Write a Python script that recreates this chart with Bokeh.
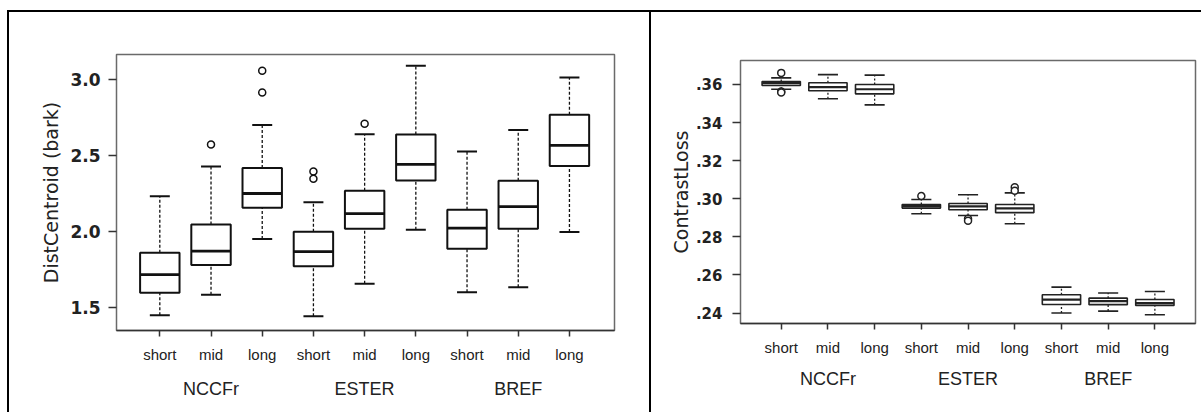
from bokeh.plotting import figure
from bokeh.layouts import row
from bokeh.models import ColumnDataSource, FixedTicker, LinearAxis, CustomJSTickFormatter, Range1d
from bokeh.embed import file_html
from bokeh.resources import INLINE

# ---- data ----
groups = ["NCCFr", "ESTER", "BREF"]
lengths = ["short", "mid", "long"]

# Left panel: DistCentroid (bark)
dc_low = [1.450, 1.584, 1.950, 1.443, 1.656, 2.011, 1.601, 1.634, 1.996]
dc_q1 = [1.597, 1.780, 2.156, 1.772, 2.018, 2.336, 1.886, 2.018, 2.430]
dc_med = [1.717, 1.871, 2.250, 1.868, 2.118, 2.441, 2.022, 2.163, 2.566]
dc_q3 = [1.860, 2.046, 2.417, 1.998, 2.268, 2.638, 2.143, 2.334, 2.768]
dc_high = [2.232, 2.428, 2.700, 2.193, 2.640, 3.090, 2.526, 2.667, 3.013]
dc_out_cat = [2, 3, 3, 4, 4, 5]
dc_out_val = [2.572, 3.057, 2.914, 2.395, 2.347, 2.708]

# Right panel: ContrastLoss
cl_low = [0.3575, 0.3525, 0.3493, 0.2921, 0.2912, 0.2869, 0.2400, 0.2410, 0.2391]
cl_q1 = [0.3595, 0.3567, 0.3551, 0.2951, 0.2942, 0.2927, 0.2445, 0.2444, 0.2440]
cl_med = [0.3607, 0.3586, 0.3575, 0.2961, 0.2960, 0.2949, 0.2470, 0.2462, 0.2452]
cl_q3 = [0.3616, 0.3609, 0.3600, 0.2970, 0.2975, 0.2970, 0.2496, 0.2478, 0.2471]
cl_high = [0.3635, 0.3652, 0.3649, 0.2996, 0.3021, 0.3031, 0.2536, 0.2505, 0.2513]
cl_out_cat = [1, 1, 1, 4, 5, 5, 6, 6]
cl_out_val = [0.3661, 0.3563, 0.3558, 0.3014, 0.2895, 0.2885, 0.3061, 0.3042]

dc_ticks = [1.5, 2.0, 2.5, 3.0]
cl_ticks = [0.24, 0.26, 0.28, 0.30, 0.32, 0.34, 0.36]

SANS = "Liberation Sans"
WIDE = "DejaVu Sans"


def panel(frame_w, frame_h, borders, xr, yr, low, q1, med, q3, high, out_cat, out_val,
          yticks, ylabel, yfmt, box_w, cap_w, box_lw, med_lw, dash, line_color,
          ytick_size, label_standoff, ylabel_standoff, xstand, gstand):
    p = figure(frame_width=frame_w, frame_height=frame_h, output_backend="svg", toolbar_location=None,
               title=None,
               x_range=Range1d(*xr), y_range=Range1d(*yr),
               min_border_left=borders[0], min_border_right=borders[1],
               min_border_top=borders[2], min_border_bottom=borders[3],
               x_axis_location=None, y_axis_location=None)
    p.grid.visible = False
    p.outline_line_color = "#6a6a6a"
    p.outline_line_width = 1.5
    p.background_fill_color = "white"
    p.border_fill_color = "white"

    xs = list(range(1, len(low) + 1))
    src = ColumnDataSource(dict(
        x=xs, low=low, q1=q1, med=med, q3=q3, high=high,
        bx0=[x - box_w / 2 for x in xs], bx1=[x + box_w / 2 for x in xs],
        cx0=[x - cap_w / 2 for x in xs], cx1=[x + cap_w / 2 for x in xs]))

    # whiskers
    p.segment("x", "q3", "x", "high", source=src, line_color=line_color, line_width=1.3, line_dash=dash)
    p.segment("x", "low", "x", "q1", source=src, line_color=line_color, line_width=1.3, line_dash=dash)
    # caps
    p.segment("cx0", "high", "cx1", "high", source=src, line_color=line_color, line_width=box_lw)
    p.segment("cx0", "low", "cx1", "low", source=src, line_color=line_color, line_width=box_lw)
    # boxes
    p.vbar(x="x", width=box_w, top="q3", bottom="q1", source=src,
           fill_color="white", line_color=line_color, line_width=box_lw)
    # medians
    p.segment("bx0", "med", "bx1", "med", source=src, line_color=line_color, line_width=med_lw)
    # outliers
    p.scatter(out_cat, out_val, marker="circle", size=7, fill_color="white",
              line_color=line_color, line_width=1.5)

    # y axis
    ya = LinearAxis(ticker=FixedTicker(ticks=yticks), axis_label=ylabel, formatter=yfmt)
    ya.axis_line_color = None
    ya.major_tick_line_color = "#333333"
    ya.major_tick_line_width = 1.5
    ya.major_tick_out = 8
    ya.major_tick_in = 0
    ya.minor_tick_line_color = None
    ya.major_label_text_font = WIDE
    ya.major_label_text_font_style = "bold"
    ya.major_label_text_font_size = ytick_size
    ya.major_label_text_color = "#222222"
    ya.major_label_standoff = label_standoff
    ya.axis_label_text_font = WIDE
    ya.axis_label_text_font_style = "normal"
    ya.axis_label_text_font_size = "19px"
    ya.axis_label_text_color = "#222222"
    ya.axis_label_standoff = ylabel_standoff
    p.add_layout(ya, "left")

    # x axis with category ticks
    xa = LinearAxis(ticker=FixedTicker(ticks=xs),
                    major_label_overrides={x: lengths[(x - 1) % 3] for x in xs})
    xa.axis_line_color = "#333333"
    xa.axis_line_width = 1.5
    xa.major_tick_line_color = "#333333"
    xa.major_tick_line_width = 1.5
    xa.major_tick_out = 6
    xa.major_tick_in = 0
    xa.minor_tick_line_color = None
    xa.major_label_text_font = SANS
    xa.major_label_text_font_size = "15px"
    xa.major_label_text_color = "#222222"
    xa.major_label_standoff = xstand
    p.add_layout(xa, "below")

    # group labels
    ga = LinearAxis(ticker=FixedTicker(ticks=[2, 5, 8]),
                    major_label_overrides={2 + 3 * i: g for i, g in enumerate(groups)})
    ga.axis_line_color = None
    ga.major_tick_line_color = None
    ga.minor_tick_line_color = None
    ga.major_label_text_font = SANS
    ga.major_label_text_font_size = "18px"
    ga.major_label_text_color = "#222222"
    ga.major_label_standoff = gstand
    p.add_layout(ga, "below")
    return p


fmt1 = CustomJSTickFormatter(code="return tick.toFixed(1);")
p1 = panel(494, 276, (107, 39, 42, 82), (0.154, 9.88), (1.349, 3.164),
           dc_low, dc_q1, dc_med, dc_q3, dc_high, dc_out_cat, dc_out_val,
           dc_ticks, "DistCentroid (bark)", fmt1, 0.77, 0.39, 2.0, 2.8, "3 2", "#111111",
           "17px", 8, 5, 9, 7)
p1.styles = {"border-left": "2px solid black", "border-right": "2px solid black"}

fmt2 = CustomJSTickFormatter(code="return tick.toFixed(2).replace(/^0/, '');")
p2 = panel(455, 263, (89, 6, 42, 89), (0.128, 9.87), (0.2345, 0.3726),
           cl_low, cl_q1, cl_med, cl_q3, cl_high, cl_out_cat, cl_out_val,
           cl_ticks, "ContrastLoss", fmt2, 0.82, 0.43, 1.6, 2.2, "2 2", "#222222",
           "15px", 10, 1, 9, 4)
p2.styles = {"position": "relative", "top": "6px"}

layout = row(p1, p2, spacing=0)
layout.styles = {"margin-left": "7px", "margin-top": "10px", "border-top": "2px solid black"}
open("out.html", "w").write(file_html(layout, INLINE))
